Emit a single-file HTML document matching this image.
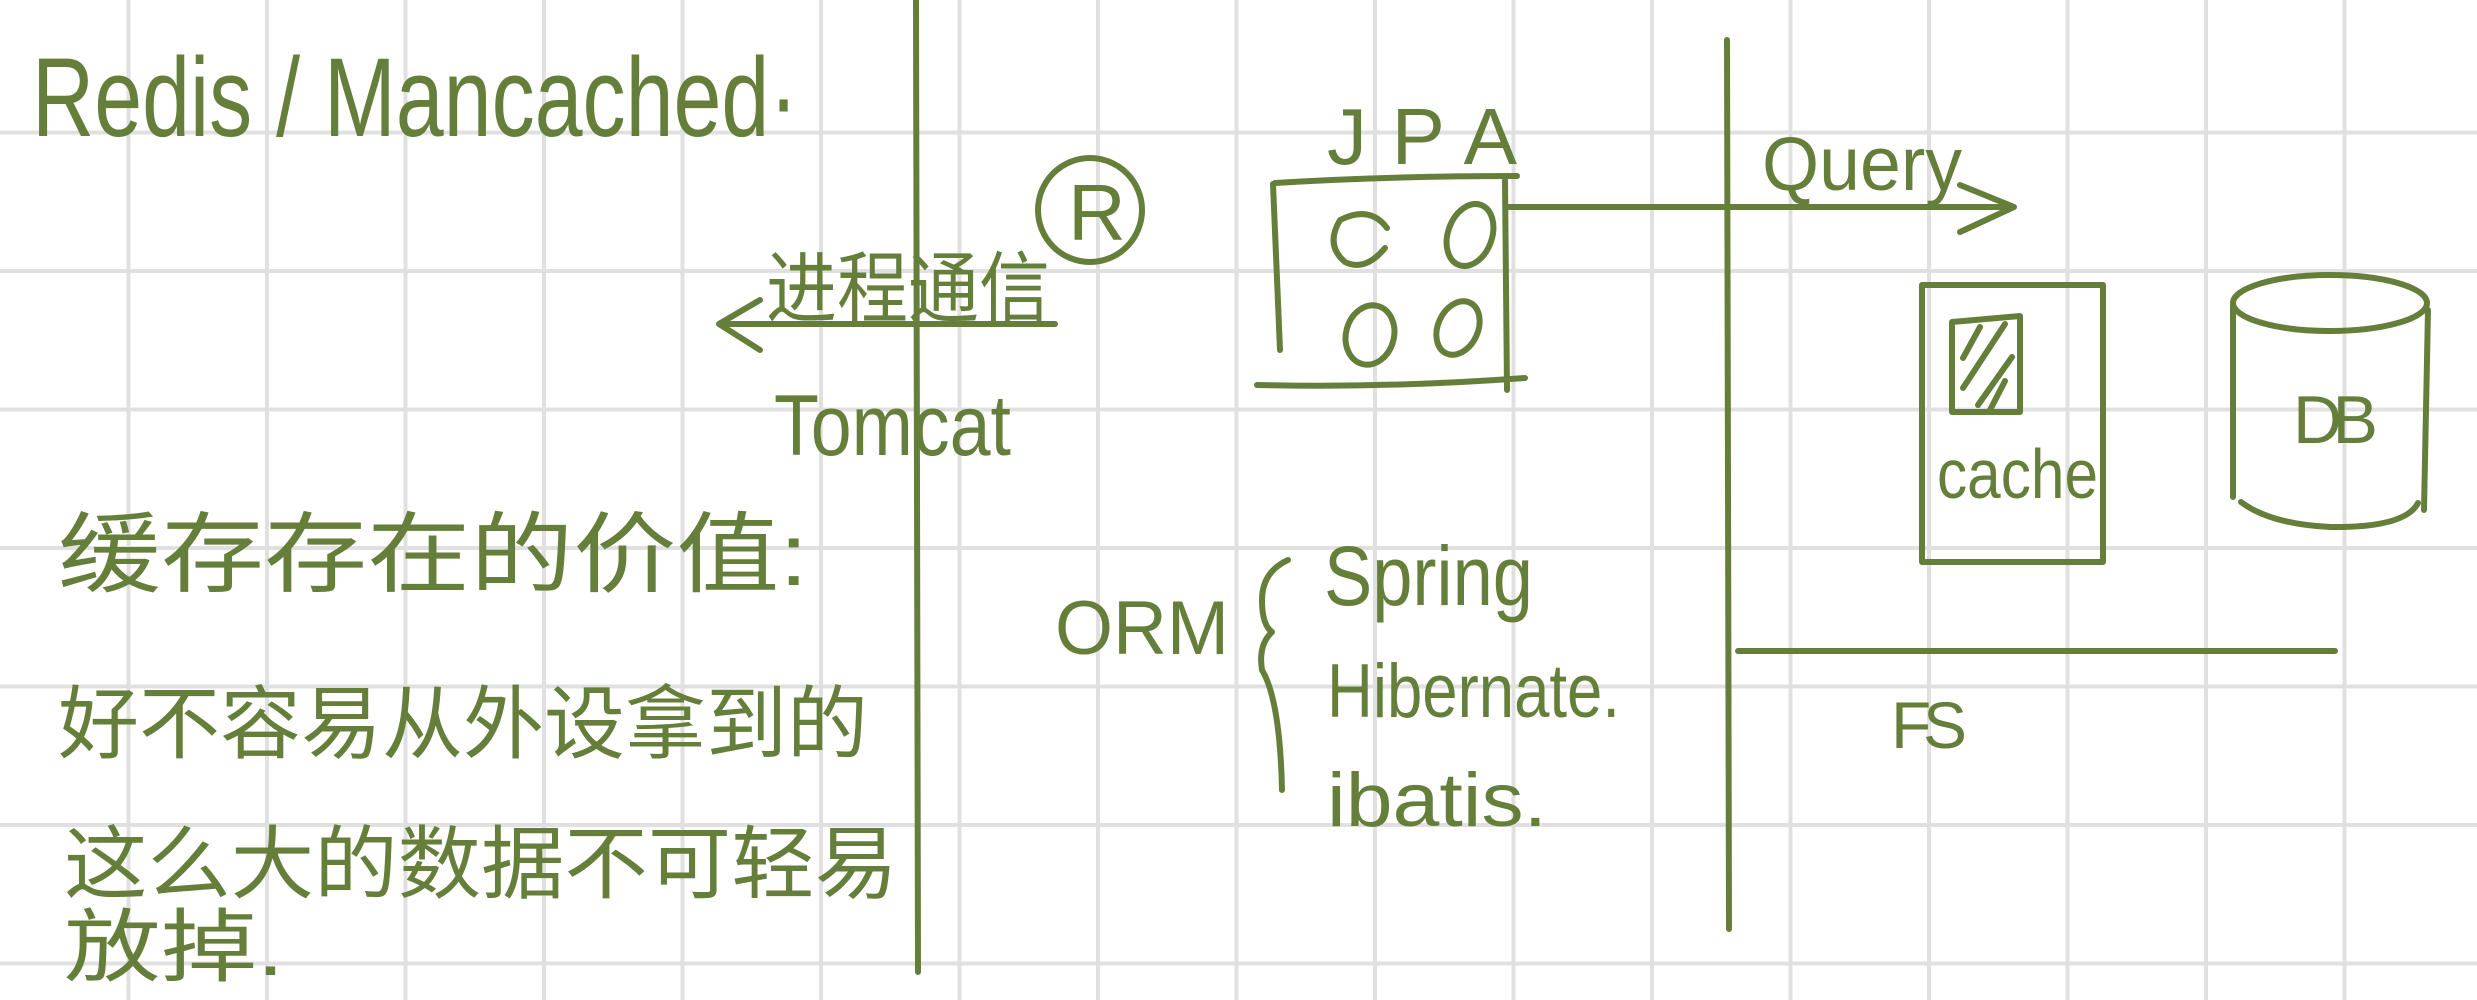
<!DOCTYPE html>
<html><head><meta charset="utf-8"><style>
html,body{margin:0;padding:0;background:#fff}
svg{display:block}
.t{fill:#657f3b;font-family:"Liberation Sans","Noto Sans CJK SC",sans-serif;}
.s{stroke:#657f3b;stroke-width:6;fill:none;stroke-linecap:round;stroke-linejoin:round}
</style></head><body>
<svg width="2477" height="1000" viewBox="0 0 2477 1000">
<rect width="2477" height="1000" fill="#fff"/>
<g id="grid" stroke="#e0e0e0" stroke-width="4"></g>
<g>
<text class="t" x="32" y="136" font-size="112" textLength="766" lengthAdjust="spacingAndGlyphs">Redis / Mancached·</text>
<text class="t" x="58" y="585" font-size="88" textLength="750" lengthAdjust="spacingAndGlyphs">缓存存在的价值:</text>
<text class="t" x="58" y="752" font-size="80" textLength="810" lengthAdjust="spacingAndGlyphs">好不容易从外设拿到的</text>
<text class="t" x="64" y="892" font-size="80" textLength="834" lengthAdjust="spacingAndGlyphs">这么大的数据不可轻易</text>
<text class="t" x="64" y="975" font-size="80" textLength="220" lengthAdjust="spacingAndGlyphs">放掉.</text>
</g>
<line class="s" x1="916" y1="0" x2="918" y2="972"/>
<line class="s" x1="1727" y1="40" x2="1729" y2="929"/>
<g>
<circle class="s" cx="1090" cy="210" r="52"/>
<text class="t" x="1068" y="240" font-size="80">R</text>
<text class="t" x="766" y="316" font-size="78" textLength="284" lengthAdjust="spacingAndGlyphs">进程通信</text>
<path class="s" d="M1055 324 L719 324 M760 300 L719 324 L760 350"/>
<text class="t" x="774" y="455" font-size="86" textLength="237" lengthAdjust="spacingAndGlyphs">Tomcat</text>
</g>
<g>
<text class="t" x="1327" y="164" font-size="80" textLength="190" lengthAdjust="spacing">JPA</text>
<path class="s" d="M1275 183 Q1390 176 1517 176 M1273 184 L1280 350 M1505 180 L1507 390 M1257 385 Q1390 388 1525 378"/>
<path class="s" d="M1387 228 Q1370 205 1340 220 Q1325 245 1345 262 Q1365 272 1385 248"/>
<ellipse class="s" cx="1470" cy="235" rx="22" ry="32" transform="rotate(20 1470 235)"/>
<ellipse class="s" cx="1370" cy="335" rx="24" ry="30" transform="rotate(15 1370 335)"/>
<ellipse class="s" cx="1458" cy="328" rx="20" ry="28" transform="rotate(25 1458 328)"/>
<path class="s" d="M1509 207 L2014 207 M1960 185 L2014 207 L1960 232"/>
<text class="t" x="1762" y="190" font-size="76" textLength="200" lengthAdjust="spacingAndGlyphs">Query</text>
</g>
<g>
<text class="t" x="1055" y="654" font-size="76" textLength="174" lengthAdjust="spacingAndGlyphs">ORM</text>
<path class="s" d="M1288 560 Q1262 572 1262 600 Q1262 625 1272 632 Q1258 645 1262 670 Q1280 700 1282 790"/>
<text class="t" x="1324" y="605" font-size="84" textLength="209" lengthAdjust="spacingAndGlyphs">Spring</text>
<text class="t" x="1327" y="717" font-size="76" textLength="293" lengthAdjust="spacingAndGlyphs">Hibernate.</text>
<text class="t" x="1327" y="826" font-size="76" textLength="220" lengthAdjust="spacingAndGlyphs">ibatis.</text>
</g>
<g>
<rect class="s" x="1922" y="285" width="181" height="277"/>
<path class="s" d="M1952 322 L2020 316 L2020 412 L1952 412 Z M1963 358 L1980 327 M1963 388 L2005 324 M1978 405 L2012 357 M1990 410 L2005 381"/>
<text class="t" x="1937" y="498" font-size="70" textLength="161" lengthAdjust="spacingAndGlyphs">cache</text>
<ellipse class="s" cx="2330" cy="303" rx="97" ry="28"/>
<path class="s" d="M2233 306 L2233 497 M2428 310 L2424 510 M2241 502 Q2270 524 2330 527 Q2405 528 2418 503"/>
<text class="t" x="2293" y="443" font-size="68" textLength="85" lengthAdjust="spacing">DB</text>
<line class="s" x1="1738" y1="651" x2="2335" y2="651"/>
<text class="t" x="1891" y="748" font-size="66" textLength="76" lengthAdjust="spacing">FS</text>
</g>
<script>
var g=document.getElementById('grid');
for(var x=128-138;x<2477;x+=138.5){var l=document.createElementNS('http://www.w3.org/2000/svg','line');l.setAttribute('x1',x);l.setAttribute('x2',x);l.setAttribute('y1',0);l.setAttribute('y2',1000);


g.appendChild(l);}
for(var y=132-138;y<1000;y+=138.5){var l=document.createElementNS('http://www.w3.org/2000/svg','line');l.setAttribute('y1',y);l.setAttribute('y2',y);l.setAttribute('x1',0);l.setAttribute('x2',2477);


g.appendChild(l);}
</script>
</svg>
</body></html>
